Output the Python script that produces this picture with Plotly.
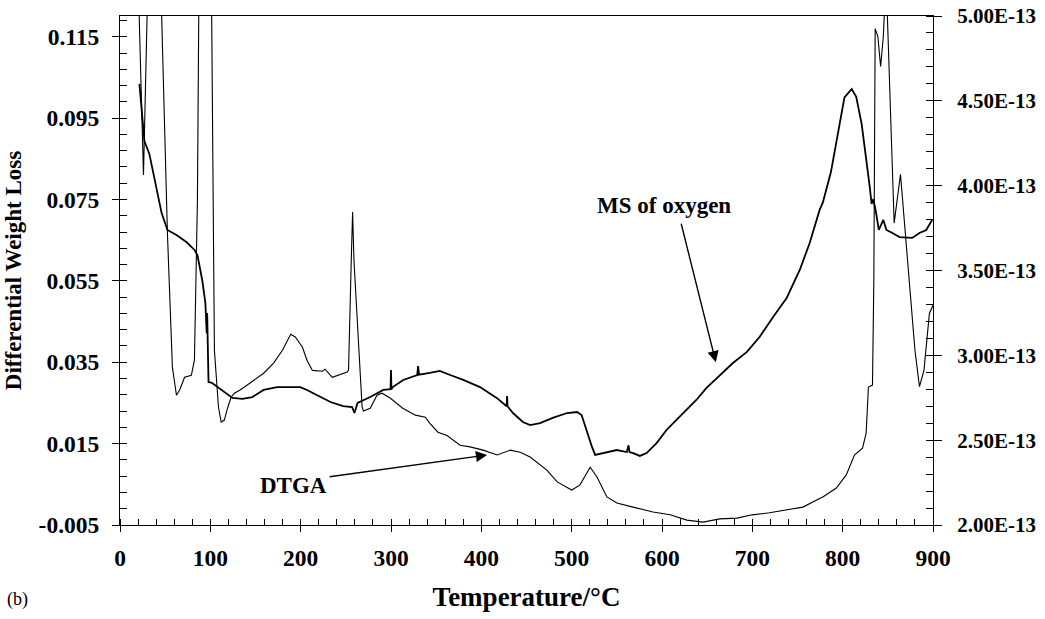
import plotly.graph_objects as go

# ---- data ----
dtga_T = [20, 26, 31, 44, 46, 52.5, 58, 62.5, 66, 71.5, 79, 82.4, 85.7, 87.5, 100, 101.5,
          104.5, 106.7, 109, 112, 115.5, 119, 123, 126.6, 133, 144, 159, 170, 180, 189, 194,
          202, 207, 213, 224, 227, 235, 251.5, 253, 256, 257.5, 259, 268, 269.5, 277, 284.5,
          290, 299, 313, 327, 338, 343, 352, 362, 376.5, 387.5, 402, 417.5, 432, 443, 454,
          472.5, 484, 500, 509, 520.5, 528, 539, 550, 568, 590, 609, 627.5, 645.5, 664, 683,
          700, 719, 738, 756, 775, 778, 793, 804, 813, 822, 826, 828.5, 833, 834.5, 836, 839,
          842, 845, 847, 848, 849.5, 857, 864, 868, 874, 880, 885, 890, 896, 900]
dtga_v = [0.13, 0.081, 0.13, 0.14, 0.121, 0.0667, 0.0338, 0.0269, 0.0282, 0.0313, 0.0318,
          0.0355, 0.0748, 0.13, 0.14, 0.12, 0.038, 0.0306, 0.024, 0.0203, 0.0208, 0.0237,
          0.0264, 0.0274, 0.0282, 0.0299, 0.0323, 0.0348, 0.038, 0.0419, 0.0412, 0.0387,
          0.0355, 0.033, 0.0328, 0.0333, 0.0313, 0.0326, 0.0331, 0.06, 0.0719, 0.06, 0.024,
          0.023, 0.0237, 0.0269, 0.0274, 0.0262, 0.0237, 0.022, 0.0215, 0.020, 0.0178, 0.017,
          0.0146, 0.0142, 0.0134, 0.0122, 0.0134, 0.0129, 0.0117, 0.0085, 0.0056, 0.0036,
          0.0048, 0.0092, 0.0068, 0.0019, 0.0004, -0.0006, -0.0018, -0.0025, -0.0038,
          -0.0043, -0.0035, -0.0033, -0.0025, -0.002, -0.0013, -0.0006, 0.0016, 0.0019,
          0.0041, 0.0073, 0.0122, 0.0139, 0.0176, 0.0289, 0.0294, 0.055, 0.117, 0.115,
          0.1077, 0.115, 0.125, 0.13, 0.12, 0.0692, 0.0812, 0.070, 0.055, 0.038, 0.029,
          0.033, 0.047, 0.049]

ms_T = [21.5, 23, 27, 32.5, 40, 46, 52.5, 62.5, 73.5, 82.5, 85.7, 91, 94.5, 96, 96.5, 97,
        98, 102, 110, 118, 124.5, 135.5, 146.5, 159, 174, 188.5, 199.5, 207, 218, 233, 247,
        257, 259.5, 263, 277, 291.5, 299.5, 300, 300.5, 302, 313.5, 329, 330, 331, 343, 354,
        365.5, 380, 398.5, 417, 428, 428.5, 429, 435, 446, 454, 465, 479, 495, 506, 511, 517,
        522.5, 526, 535, 550, 561, 563, 564, 568, 575.5, 583, 594, 605, 616, 627, 638, 649,
        664, 678.5, 694, 708, 723, 738, 752.5, 763.5, 774.5, 778, 787, 796, 802, 810, 815,
        821, 826, 830, 832, 834, 837, 840, 845, 848.5, 855, 863, 877, 885, 892.5, 899]
ms_v = [4.60, 4.499, 4.263, 4.187, 3.992, 3.84, 3.739, 3.709, 3.668, 3.621, 3.591, 3.444,
        3.309, 3.13, 3.25, 2.99, 2.843, 2.837, 2.807, 2.778, 2.749, 2.743, 2.754, 2.796,
        2.813, 2.813, 2.813, 2.796, 2.766, 2.725, 2.701, 2.695, 2.66, 2.719, 2.754, 2.796,
        2.80, 2.914, 2.80, 2.813, 2.855, 2.884, 2.937, 2.886, 2.896, 2.908, 2.884, 2.855,
        2.813, 2.749, 2.70, 2.76, 2.70, 2.66, 2.607, 2.589, 2.601, 2.631, 2.66, 2.666,
        2.648, 2.542, 2.46, 2.413, 2.424, 2.442, 2.43, 2.47, 2.43, 2.424, 2.407, 2.424,
        2.483, 2.56, 2.619, 2.678, 2.737, 2.807, 2.884, 2.955, 3.02, 3.108, 3.226, 3.338,
        3.503, 3.662, 3.857, 3.90, 4.08, 4.35, 4.52, 4.57, 4.523, 4.364, 4.169, 3.992,
        3.892, 3.921, 3.839, 3.739, 3.798, 3.739, 3.721, 3.697, 3.692, 3.721, 3.739, 3.798]
ms_scale = 1e-13

x_ticks = [0, 100, 200, 300, 400, 500, 600, 700, 800, 900]
y_ticks = [-0.005, 0.015, 0.035, 0.055, 0.075, 0.095, 0.115]
y_ticklabels = ["-0.005", "0.015", "0.035", "0.055", "0.075", "0.095", "0.115"]
y2_ticks = [2.0, 2.5, 3.0, 3.5, 4.0, 4.5, 5.0]
y2_ticklabels = ["2.00E-13", "2.50E-13", "3.00E-13", "3.50E-13", "4.00E-13", "4.50E-13", "5.00E-13"]

FONT = "Liberation Serif"

fig = go.Figure()
fig.add_trace(go.Scatter(x=dtga_T, y=dtga_v, mode="lines", name="DTGA",
                         line=dict(color="black", width=1.1), yaxis="y"))
fig.add_trace(go.Scatter(x=ms_T, y=[v * ms_scale for v in ms_v], mode="lines",
                         name="MS of oxygen", line=dict(color="black", width=1.8),
                         yaxis="y2"))

tickfont = dict(family=FONT, size=23.5, color="black", weight="bold")
tickfont2 = dict(family=FONT, size=21, color="black", weight="bold")

fig.update_layout(
    template="none",
    width=1045, height=619,
    margin=dict(l=120, r=112, t=16, b=94, pad=0),
    paper_bgcolor="white", plot_bgcolor="white",
    showlegend=False,
    font=dict(family=FONT, color="black"),
    xaxis=dict(range=[0, 900], tickvals=x_ticks, ticks="outside", ticklen=6,
               tickcolor="black", showline=True, linecolor="black", linewidth=1,
               mirror=True, showgrid=False, zeroline=False, tickfont=tickfont,
               ticklabelstandoff=6, automargin=False,
               minor=dict(dtick=20, tick0=0, ticks="inside", ticklen=6, tickcolor="black",
                          showgrid=False),
               title=dict(text="Temperature/°C", font=dict(family=FONT, size=27, weight="bold"),
                          standoff=16)),
    yaxis=dict(range=[-0.005, 0.1201], tickvals=y_ticks, ticktext=y_ticklabels,
               ticks="outside", ticklen=7, tickcolor="black", showline=True,
               linecolor="black", linewidth=1, showgrid=False, zeroline=False,
               tickfont=tickfont, ticklabelstandoff=8, automargin=False,
               minor=dict(dtick=0.004, tick0=-0.005, ticks="inside", ticklen=7,
                          tickcolor="black", showgrid=False),
               title=dict(text="Differential Weight Loss",
                          font=dict(family=FONT, size=23, weight="bold"), standoff=10)),
    yaxis2=dict(range=[2e-13, 5e-13], overlaying="y", side="right",
                tickvals=[v * ms_scale for v in y2_ticks], ticktext=y2_ticklabels,
                ticks="outside", ticklen=8, tickcolor="black", showline=True,
                linecolor="black", linewidth=1, showgrid=False, zeroline=False,
                tickfont=tickfont2, ticklabelstandoff=11, automargin=False,
                minor=dict(dtick=0.1e-13, tick0=2e-13, ticks="inside", ticklen=7,
                           tickcolor="black", showgrid=False)),
)

ann_font = dict(family=FONT, size=23, color="black", weight="bold")
fig.add_annotation(x=602, y=0.0736, xref="x", yref="y", text="MS of oxygen",
                   showarrow=False, font=ann_font)
fig.add_annotation(x=659.6, y=0.035, xref="x", yref="y", text="", showarrow=True,
                   ax=-35, ay=-140, arrowhead=2, arrowsize=1.6, arrowwidth=1.4,
                   arrowcolor="black")
fig.add_annotation(x=191.8, y=0.0048, xref="x", yref="y", text="DTGA",
                   showarrow=False, font=ann_font)
fig.add_annotation(x=406.4, y=0.0122, xref="x", yref="y", text="", showarrow=True,
                   ax=-159, ay=22, arrowhead=2, arrowsize=1.6, arrowwidth=1.4,
                   arrowcolor="black")
fig.add_annotation(xref="paper", yref="paper", x=-0.1414, y=-0.147, xanchor="left",
                   yanchor="middle", text="(b)", showarrow=False,
                   font=dict(family=FONT, size=18, color="black"))

fig.write_html("out.html")
